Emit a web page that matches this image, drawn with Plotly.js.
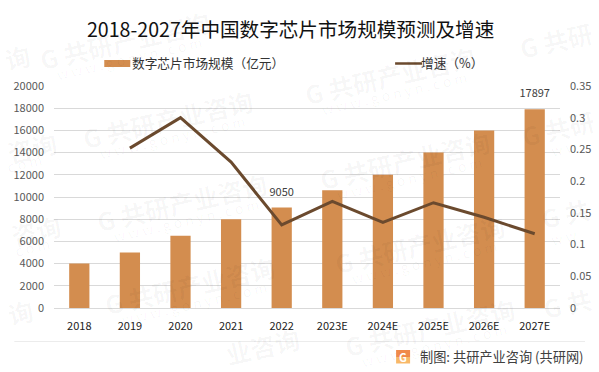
<!DOCTYPE html>
<html><head><meta charset="utf-8">
<script src="https://cdn.plot.ly/plotly-3.0.1.min.js"></script>
<style>html,body{margin:0;padding:0;background:#fff}#c{width:599px;height:372px}</style>
</head><body><div id="c"></div>
<script>
const categories=['2018','2019','2020','2021','2022','2023E','2024E','2025E','2026E','2027E'];
const marketSize=[4000,5000,6500,8000,9050,10600,12000,14000,16000,17897];
const growth=[null,0.252,0.3,0.23,0.131,0.168,0.135,0.166,0.143,0.117];
const barLabels=['','','','','9050','','','','','17897'];
const leftTicks=[0,2000,4000,6000,8000,10000,12000,14000,16000,18000,20000];
const rightTicks=[0,0.05,0.1,0.15,0.2,0.25,0.3,0.35];
const titleText='2018-2027年中国数字芯片市场规模预测及增速';
const barName='数字芯片市场规模（亿元）';
const lineName='增速（%）';
const sourceText='制图: 共研产业咨询 (共研网)';
const wmName='G 共研产业咨询';
const wmSite='w w w . g o n y n . c o m';
const wmFull=[[125,40],[168,119],[182,202],[190,285],[390,75],[405,160],[420,244],[430,327]];
const wmPartial=[['询',17,57],['咨询',32,147],['咨询',36,230],['询',20,312],['G 共研',556,40],['G 共研',558,128],['G 共',566,213],['G 共',568,303],['业咨询',262,346]];
const wmSitePartial=[['c o m',24,163],['c o m',32,247],['w w',564,148],['w w',564,237]];

const W=599,H=372,L=53.7,R=560,T=86,B=308;
const FONT='"Noto Sans CJK SC","Noto Sans",sans-serif';
const GREY='#595959';
const WM='rgba(0,0,0,0.035)';
const px=x=>(x-L)/(R-L), py=y=>(B-y)/(B-T);
const note=(x,y,text,size,color,extra)=>Object.assign({xref:'paper',yref:'paper',x:px(x),y:py(y),text,showarrow:false,
  font:{family:FONT,size,color},xanchor:'center',yanchor:'middle'},extra||{});
const wmBold=(x,y,t)=>note(x,y,t,25,WM,{textangle:-13,font:{family:FONT,size:25,color:WM,weight:700}});
const wmThin=(x,y,t)=>note(x,y,t,14,WM,{textangle:-13});

const annotations=[];
wmFull.forEach(([x,y])=>{annotations.push(wmBold(x,y,wmName));annotations.push(wmThin(x+4,y+18,wmSite));});
wmPartial.forEach(([t,x,y])=>annotations.push(wmBold(x,y,t)));
wmSitePartial.forEach(([t,x,y])=>annotations.push(wmThin(x,y,t)));
annotations.push(note(290.5,29,titleText,19.6,'#111111'));
annotations.push(note(208,63,barName,12.7,'#333333'));
annotations.push(note(452,63,lineName,12.7,'#333333'));
annotations.push(note(502,356,sourceText,13.2,'#404040'));
annotations.push(note(403,356.5,'G',10,'#ffffff',{font:{family:FONT,size:11,color:'#fff',weight:700}}));

const shapes=[
 {type:'line',xref:'paper',yref:'paper',x0:px(14),x1:px(585),y0:py(341.5),y1:py(341.5),line:{color:'#ececec',width:1}},
 {type:'rect',xref:'paper',yref:'paper',x0:px(104),x1:px(130),y0:py(60),y1:py(67),fillcolor:'#D38D4F',line:{width:0}},
 {type:'line',xref:'paper',yref:'paper',x0:px(395),x1:px(422),y0:py(63.5),y1:py(63.5),line:{color:'#6B4A2E',width:2.5}},
 {type:'rect',xref:'paper',yref:'paper',x0:px(396),x1:px(410),y0:py(350),y1:py(357),fillcolor:'#F08A4B',line:{width:0}},
 {type:'rect',xref:'paper',yref:'paper',x0:px(396),x1:px(410),y0:py(357),y1:py(363.5),fillcolor:'#F8B868',line:{width:0}}
];

Plotly.newPlot('c',[
 {type:'bar',x:categories,y:marketSize,name:barName,marker:{color:'#D38D4F'},width:0.4,hoverinfo:'skip'},
 {type:'scatter',mode:'lines',x:categories,y:growth,yaxis:'y2',name:lineName,line:{color:'#6B4A2E',width:3},hoverinfo:'skip'},
 {type:'scatter',mode:'markers+text',x:categories,y:marketSize,text:barLabels,textposition:'top center',cliponaxis:false,
  marker:{size:13,opacity:0},textfont:{family:FONT,size:11,color:'#404040'},hoverinfo:'skip'}
],{
 width:W,height:H,margin:{l:L,r:W-R,t:T,b:H-B,pad:0},showlegend:false,
 paper_bgcolor:'#fff',plot_bgcolor:'rgba(0,0,0,0)',
 font:{family:FONT,color:GREY,size:11},
 xaxis:{type:'category',categoryorder:'array',categoryarray:categories,range:[-0.5,9.5],tickfont:{size:11,color:'#222'},showgrid:false,showline:true,linecolor:'#d9d9d9',ticks:'',ticklabelstandoff:8},
 yaxis:{range:[0,20000],tickvals:leftTicks,tickformat:'d',gridcolor:'#d9d9d9',gridwidth:1,zeroline:false,showline:false,ticks:'',ticklabelstandoff:9,tickfont:{size:11,color:GREY}},
 yaxis2:{overlaying:'y',side:'right',range:[0,0.35],tickvals:rightTicks,ticktext:rightTicks.map(String),showgrid:false,zeroline:false,showline:false,ticks:'',ticklabelstandoff:9,tickfont:{size:11,color:GREY}},
 annotations,shapes
},{staticPlot:true,displayModeBar:false});
</script></body></html>
